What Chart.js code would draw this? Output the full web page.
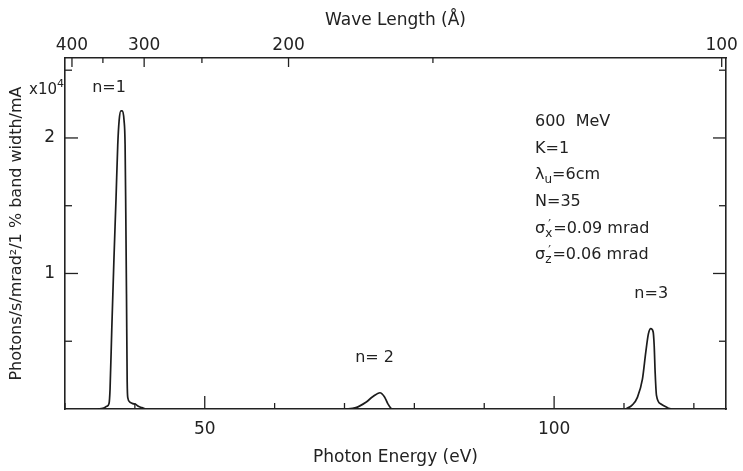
<!DOCTYPE html>
<html>
<head>
<meta charset="utf-8">
<script src="https://cdn.jsdelivr.net/npm/chart.js@4/dist/chart.umd.min.js"></script>
<style>
body { margin: 0; background: #fff; }
</style>
</head>
<body>
<canvas id="canvas1" width="743" height="471"></canvas>
<script>
//DATA (flux in units of 10^4)
let n1Energy = [34.7, 35.4, 36.0, 36.3, 36.45, 36.7, 37.0, 37.3, 37.55, 37.75, 38.0, 38.2, 38.45, 38.6, 38.7, 38.8, 38.9, 39.0, 39.3, 39.7, 40.1, 40.5, 41.0, 41.5]
let n1Flux   = [0, 0.005, 0.02, 0.04, 0.15, 0.6, 1.1, 1.55, 1.95, 2.13, 2.2, 2.2, 2.13, 1.95, 1.45, 0.85, 0.2, 0.08, 0.05, 0.04, 0.035, 0.02, 0.01, 0]
let n2Energy = [69.96, 71.63, 73.07, 74.03, 75.08, 75.71, 76.19, 76.66, 77.0]
let n2Flux   = [0, 0.01, 0.05, 0.09, 0.12, 0.09, 0.04, 0.005, 0]
let n3Energy = [110.24, 111.2, 111.92, 112.64, 113.12, 113.5, 113.84, 114.17, 114.32, 114.46, 114.65, 115.28, 116.23, 116.72]
let n3Flux   = [0, 0.03, 0.086, 0.22, 0.42, 0.556, 0.593, 0.57, 0.47, 0.27, 0.10, 0.037, 0.01, 0]

//ticks
let energyTicks = [30, 40, 50, 60, 70, 80, 90, 100, 110, 120]
let energyLabels = [50, 100]
let waveTicks = [400, 350, 300, 250, 200, 150, 100]
let waveLabels = [400, 300, 200, 100]
let fluxTicks = [0.5, 1, 1.5, 2, 2.5]
let fluxLabels = [1, 2]

//text block
let beamParams = [
    [['600  MeV']],
    [['K=1']],
    [['λ'], ['u', 'sub'], ['=6cm']],
    [['N=35']],
    [['σ'], ['x', 'primesub'], ['=0.09 mrad']],
    [['σ'], ['z', 'primesub'], ['=0.06 mrad']]
]

let hc = 12398.4 // eV * Angstrom
let ink = '#222'
let fontName = '"DejaVu Sans", sans-serif'

function toPoints(xs, ys) {
    return xs.map(function (x, i) {
        return {x: x, y: ys[i]}
    })
}

function peakDataset(xs, ys) {
    return {
        data: toPoints(xs, ys),
        borderColor: '#1c1c1c',
        borderWidth: 1.7,
        pointRadius: 0,
        fill: false,
        cubicInterpolationMode: 'monotone'
    }
}

//inward ticks + annotations
let extras = {
    id: 'extras',
    afterDraw: function (chart) {
        let ctx = chart.ctx
        let area = chart.chartArea
        let sx = chart.scales.x
        let sy = chart.scales.y
        ctx.save()
        ctx.strokeStyle = ink
        ctx.lineWidth = 1.3
        function line(x1, y1, x2, y2) {
            ctx.beginPath()
            ctx.moveTo(x1, y1)
            ctx.lineTo(x2, y2)
            ctx.stroke()
        }
        energyTicks.forEach(function (e) {
            let px = sx.getPixelForValue(e)
            let len = energyLabels.includes(e) ? 13 : 6
            line(px, area.bottom, px, area.bottom - len)
        })
        waveTicks.forEach(function (w) {
            let px = chart.scales.x2.getPixelForValue(hc / w)
            let len = waveLabels.includes(w) ? 9 : 5
            line(px, area.top, px, area.top + len)
        })
        fluxTicks.forEach(function (f) {
            let py = sy.getPixelForValue(f)
            let len = fluxLabels.includes(f) ? 13 : 7
            line(area.left, py, area.left + len, py)
            line(area.right, py, area.right - len, py)
        })

        ctx.fillStyle = ink
        ctx.textBaseline = 'middle'

        //peak names
        ctx.font = '16px ' + fontName
        ctx.textAlign = 'center'
        let notes = [['n=1', 36.3, 2.37], ['n= 2', 74.3, 0.38], ['n=3', 113.9, 0.85]]
        notes.forEach(function (n) {
            ctx.fillText(n[0], sx.getPixelForValue(n[1]), sy.getPixelForValue(n[2]))
        })

        //x10^4
        ctx.textAlign = 'left'
        ctx.font = '15px ' + fontName
        ctx.fillText('x10', 29, 90)
        let w10 = ctx.measureText('x10').width
        ctx.font = '11px ' + fontName
        ctx.fillText('4', 29 + w10, 84)

        //parameters
        beamParams.forEach(function (parts, i) {
            let x = 535
            let y = 122 + i * 26.6
            parts.forEach(function (p) {
                if (p[1] === 'sub') {
                    ctx.font = '12px ' + fontName
                    ctx.fillText(p[0], x, y + 5)
                    x += ctx.measureText(p[0]).width
                } else if (p[1] === 'primesub') {
                    ctx.font = '12px ' + fontName
                    ctx.fillText('\u2032', x + 3, y - 4)
                    ctx.fillText(p[0], x, y + 5)
                    x += ctx.measureText(p[0]).width + 1
                } else {
                    ctx.font = '16px ' + fontName
                    ctx.fillText(p[0], x, y)
                    x += ctx.measureText(p[0]).width
                }
            })
        })
        ctx.restore()
    }
}

let ctx1 = document.getElementById('canvas1').getContext('2d')

let config = {
    type: 'line',
    data: {
        datasets: [
            peakDataset(n1Energy, n1Flux),
            peakDataset(n2Energy, n2Flux),
            peakDataset(n3Energy, n3Flux)
        ]
    },
    options: {
        responsive: false,
        animation: false,
        layout: {padding: 0},
        plugins: {
            legend: {display: false},
            tooltip: {enabled: false}
        },
        scales: {
            x: {
                type: 'linear',
                position: 'bottom',
                min: 30,
                max: 124.6,
                afterFit: function (s) { s.height = 62 },
                afterBuildTicks: function (s) {
                    s.ticks = energyTicks.map(function (v) { return {value: v} })
                },
                grid: {display: false, drawTicks: false},
                border: {display: true, color: ink, width: 1.6},
                ticks: {
                    color: ink,
                    padding: 10,
                    maxRotation: 0,
                    autoSkip: false,
                    font: {family: fontName, size: 17},
                    callback: function (v) { return energyLabels.includes(v) ? String(v) : '' }
                },
                title: {
                    display: true,
                    text: 'Photon Energy (eV)',
                    color: ink,
                    font: {family: fontName, size: 17},
                    padding: {top: 0, bottom: 3}
                }
            },
            x2: {
                type: 'linear',
                position: 'top',
                min: 30,
                max: 124.6,
                afterFit: function (s) { s.height = 58 },
                afterBuildTicks: function (s) {
                    s.ticks = waveTicks.map(function (w) { return {value: hc / w} })
                },
                grid: {display: false, drawTicks: false},
                border: {display: true, color: ink, width: 1.6},
                ticks: {
                    color: ink,
                    padding: 2,
                    maxRotation: 0,
                    autoSkip: false,
                    font: {family: fontName, size: 17},
                    callback: function (v) {
                        let w = Math.round(hc / v)
                        return waveLabels.includes(w) ? String(w) : ''
                    }
                },
                title: {
                    display: true,
                    text: 'Wave Length (Å)',
                    color: ink,
                    font: {family: fontName, size: 17},
                    padding: {top: 10, bottom: 0}
                }
            },
            y: {
                type: 'linear',
                position: 'left',
                min: 0,
                max: 2.59,
                afterFit: function (s) { s.width = 65 },
                afterBuildTicks: function (s) {
                    s.ticks = fluxTicks.map(function (v) { return {value: v} })
                },
                grid: {display: false, drawTicks: false},
                border: {display: true, color: ink, width: 1.6},
                ticks: {
                    color: ink,
                    padding: 10,
                    autoSkip: false,
                    font: {family: fontName, size: 17},
                    callback: function (v) { return fluxLabels.includes(v) ? String(v) : '' }
                },
                title: {
                    display: true,
                    text: 'Photons/s/mrad²/1 % band width/mA',
                    color: ink,
                    font: {family: fontName, size: 16},
                    padding: {top: 7, bottom: 0}
                }
            },
            y2: {
                type: 'linear',
                position: 'right',
                min: 0,
                max: 2.59,
                afterFit: function (s) { s.width = 17 },
                grid: {display: false, drawTicks: false},
                border: {display: true, color: ink, width: 1.6},
                ticks: {display: false}
            }
        }
    },
    plugins: [extras]
}

let spectrumChart = new Chart(ctx1, config)
</script>
</body>
</html>
